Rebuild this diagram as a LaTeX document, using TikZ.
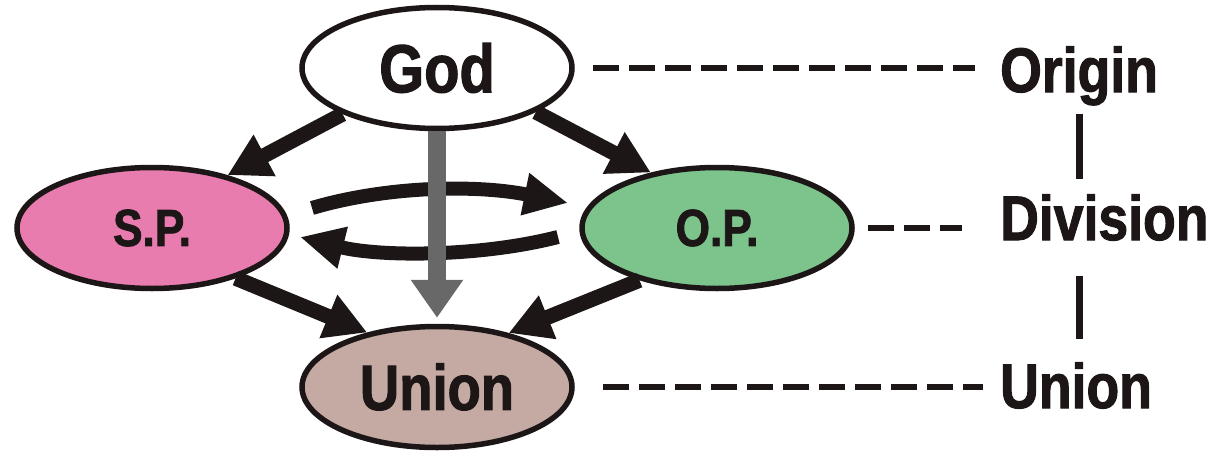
\documentclass[tikz,border=0pt]{standalone}
\usepackage{fontspec}
\setmainfont{Liberation Sans}[FakeStretch=0.85,BoldFeatures={FakeBold=1.6}]
\usetikzlibrary{arrows.meta, shapes.geometric}

\definecolor{spfill}{RGB}{233,124,175}
\definecolor{opfill}{RGB}{124,196,140}
\definecolor{unfill}{RGB}{196,170,163}
\definecolor{inkgray}{RGB}{104,104,104}
\definecolor{ink}{RGB}{28,22,22}

\begin{document}
\begin{tikzpicture}[
	  x=1pt, y=1pt,
	  oval/.style={
	    ellipse,
	    draw=ink,
	    line width=5.5pt,
	    minimum width=270pt,
	    minimum height=121pt,
	    inner sep=0pt,
	    text=ink
	  },
	  lab/.style={anchor=base west, inner sep=0pt, text=ink,
	    font=\fontsize{63}{63}\selectfont\bfseries},
	  arr/.style={-{Triangle[length=42pt,width=44pt]},line width=15pt,ink},
	  garr/.style={-{Triangle[length=38pt,width=50pt]},line width=18pt,inkgray},
	  carr/.style={-{Triangle[length=44pt,width=40pt]},line width=14pt,ink},
	  dline/.style={line width=5.5pt,ink,dash pattern=on 26pt off 10pt},
	  vline/.style={line width=7pt,ink}
	]
	\useasboundingbox (0,0) rectangle (1215,451);
	
	\node[oval,fill=white,font=\fontsize{68}{68}\selectfont\bfseries] (god) at (437,383) {God};
	\node[oval,fill=spfill,font=\fontsize{52}{52}\selectfont\bfseries] (sp) at (152,223) {S.P.};
	\node[oval,fill=opfill,font=\fontsize{52}{52}\selectfont\bfseries] (op) at (717,223) {O.P.};
	\node[oval,fill=unfill,font=\fontsize{64}{64}\selectfont\bfseries] (union) at (437,64) {Union};
	
	\node[lab] (origin) at (1000,359) {Origin};
	\node[lab] (division) at (1000,211) {Division};
	\node[lab] (unionlab) at (1000,43) {Union};
	
	% levels on the right
	\draw[dline,shorten <=18pt,shorten >=25pt] (god.east) -- (god.east -| origin.west);
	\draw[dline,shorten <=13pt,shorten >=38pt] (op.east) -- (op.east -| division.west);
	\draw[dline,shorten <=28pt,shorten >=17pt] (union.east) -- (union.east -| unionlab.west);
	\draw[vline,shorten <=8pt,shorten >=15pt] (origin.south) -- (origin.south |- division.north);
	\draw[vline,shorten <=35pt,shorten >=23pt] (origin.south |- division.south) -- (origin.south |- unionlab.north);
	
	% flows
	\draw[arr] (god.206) -- (sp.35);
	\draw[arr] (god.-24) -- (op.140);
	\draw[arr] (sp.-31) -- (union.142);
	\draw[arr] (op.214) -- (union.37);
	
	\coordinate (ta) at (312,243);
	\coordinate (tb) at (568,248);
	\coordinate (ba) at (558,214);
	\coordinate (bb) at (300,214);
	\draw[carr] (ta) .. controls (390,266) and (480,266) .. (tb);
	\draw[carr] (ba) .. controls (480,194) and (380,194) .. (bb);
	
	\draw[garr,shorten >=6pt] (god.south) -- (union.north);
	
	\end{tikzpicture}
\end{document}
